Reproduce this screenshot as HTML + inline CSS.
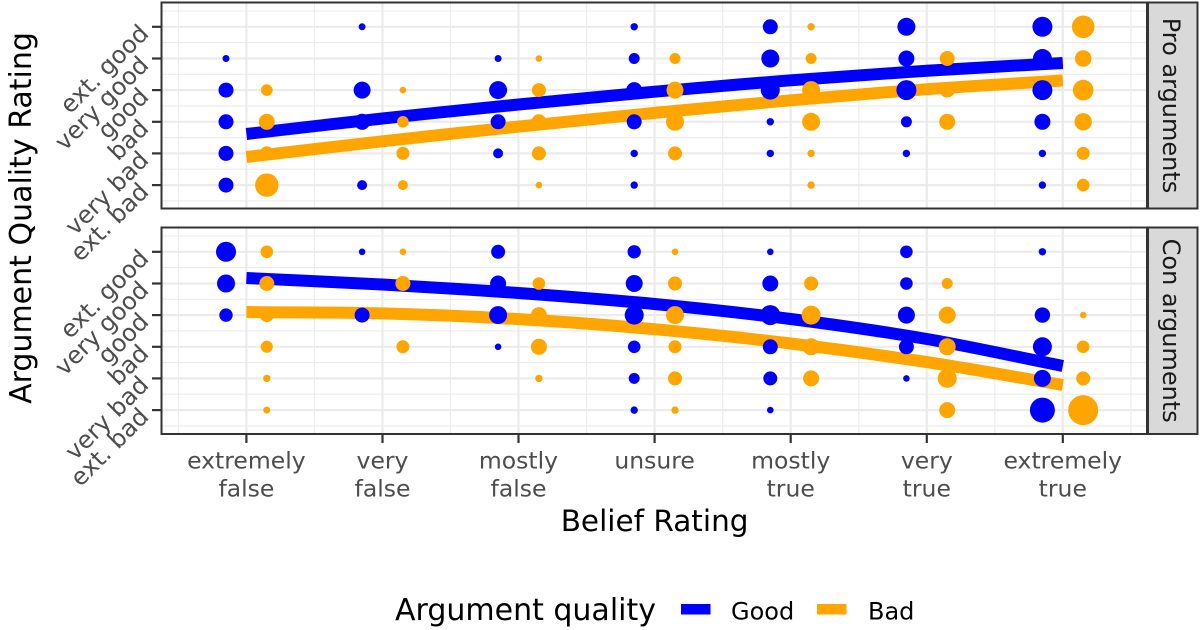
<!DOCTYPE html>
<html>
<head>
<meta charset="utf-8">
<style>
html,body{margin:0;padding:0;background:#fff;}
svg{display:block;}
text{font-family:"DejaVu Sans","Liberation Sans",sans-serif;}
</style>
</head>
<body>
<svg width="1200" height="630" viewBox="0 0 1200 630" xmlns="http://www.w3.org/2000/svg">
<rect x="0" y="0" width="1200" height="630" fill="#fff"/>
<defs>
<clipPath id="cp1"><rect x="161.5" y="2.5" width="985.5" height="206"/></clipPath>
<clipPath id="cp2"><rect x="161.5" y="227.5" width="985.5" height="206.5"/></clipPath>
</defs>

<!-- ===== TOP PANEL ===== -->
<g clip-path="url(#cp1)">
<rect x="161.5" y="2.5" width="985.5" height="206" fill="#fff"/>
<g stroke="#ebebeb" stroke-width="1.1">
<line x1="161" x2="1148" y1="11" y2="11"/><line x1="161" x2="1148" y1="42.6" y2="42.6"/><line x1="161" x2="1148" y1="74.3" y2="74.3"/><line x1="161" x2="1148" y1="105.9" y2="105.9"/><line x1="161" x2="1148" y1="137.6" y2="137.6"/><line x1="161" x2="1148" y1="169.2" y2="169.2"/><line x1="161" x2="1148" y1="200.9" y2="200.9"/>
<line y1="2" y2="209" x1="178.4" x2="178.4"/><line y1="2" y2="209" x1="314.4" x2="314.4"/><line y1="2" y2="209" x1="450.5" x2="450.5"/><line y1="2" y2="209" x1="586.6" x2="586.6"/><line y1="2" y2="209" x1="722.7" x2="722.7"/><line y1="2" y2="209" x1="858.8" x2="858.8"/><line y1="2" y2="209" x1="994.8" x2="994.8"/><line y1="2" y2="209" x1="1130.9" x2="1130.9"/>
</g>
<g stroke="#ebebeb" stroke-width="2.2">
<line x1="161" x2="1148" y1="26.8" y2="26.8"/><line x1="161" x2="1148" y1="58.5" y2="58.5"/><line x1="161" x2="1148" y1="90.1" y2="90.1"/><line x1="161" x2="1148" y1="121.8" y2="121.8"/><line x1="161" x2="1148" y1="153.4" y2="153.4"/><line x1="161" x2="1148" y1="185.1" y2="185.1"/>
<line y1="2" y2="209" x1="246.4" x2="246.4"/><line y1="2" y2="209" x1="382.5" x2="382.5"/><line y1="2" y2="209" x1="518.5" x2="518.5"/><line y1="2" y2="209" x1="654.6" x2="654.6"/><line y1="2" y2="209" x1="790.7" x2="790.7"/><line y1="2" y2="209" x1="926.8" x2="926.8"/><line y1="2" y2="209" x1="1062.8" x2="1062.8"/>
</g>
<path d="M246.4,134 C291.8,128.8 337.1,123.4 382.5,118.5 C427.8,113.6 473.2,109 518.5,104.5 C563.9,100 609.3,95.7 654.6,91.7 C700,87.7 745.3,83.8 790.7,80.3 C836,76.8 881.4,73.7 926.8,70.8 C972.1,67.9 1017.5,65.6 1062.8,63" fill="none" stroke="#0000ff" stroke-width="12"/>
<path d="M246.4,157 C291.8,151.8 337.1,146.4 382.5,141.3 C427.8,136.2 473.2,131.3 518.5,126.6 C563.9,121.9 609.3,117.3 654.6,112.9 C700,108.5 745.3,104.3 790.7,100.3 C836,96.4 881.4,92.5 926.8,89.2 C972.1,85.9 1017.5,83.4 1062.8,80.5" fill="none" stroke="#ffa500" stroke-width="12"/>
<g fill="#0000ff">
<circle cx="226" cy="58.5" r="3.5"/><circle cx="226" cy="90.1" r="7.5"/><circle cx="226" cy="121.8" r="7.5"/><circle cx="226" cy="153.4" r="7.5"/><circle cx="226" cy="185.1" r="7.5"/>
<circle cx="362.1" cy="26.8" r="3.5"/><circle cx="362.1" cy="90.1" r="8.5"/><circle cx="362.1" cy="121.8" r="8"/><circle cx="362.1" cy="185.1" r="5"/>
<circle cx="498.1" cy="58.5" r="3.5"/><circle cx="498.1" cy="90.1" r="9"/><circle cx="498.1" cy="121.8" r="7.5"/><circle cx="498.1" cy="153.4" r="5"/>
<circle cx="634.2" cy="26.8" r="3.7"/><circle cx="634.2" cy="58.5" r="5.5"/><circle cx="634.2" cy="90.1" r="8"/><circle cx="634.2" cy="121.8" r="7.5"/><circle cx="634.2" cy="153.4" r="3.7"/><circle cx="634.2" cy="185.1" r="3.7"/>
<circle cx="770.3" cy="26.8" r="7.5"/><circle cx="770.3" cy="58.5" r="9"/><circle cx="770.3" cy="90.1" r="9.5"/><circle cx="770.3" cy="121.8" r="3.7"/><circle cx="770.3" cy="153.4" r="3.7"/>
<circle cx="906.4" cy="26.8" r="9"/><circle cx="906.4" cy="58.5" r="8"/><circle cx="906.4" cy="90.1" r="10"/><circle cx="906.4" cy="121.8" r="5.5"/><circle cx="906.4" cy="153.4" r="3.7"/>
<circle cx="1042.4" cy="26.8" r="10"/><circle cx="1042.4" cy="58.5" r="9.5"/><circle cx="1042.4" cy="90.1" r="10"/><circle cx="1042.4" cy="121.8" r="8"/><circle cx="1042.4" cy="153.4" r="3.7"/><circle cx="1042.4" cy="185.1" r="3.7"/>
</g>
<g fill="#ffa500">
<circle cx="266.8" cy="90.1" r="5.8"/><circle cx="266.8" cy="121.8" r="8"/><circle cx="266.8" cy="153.4" r="7"/><circle cx="266.8" cy="185.1" r="11.7"/>
<circle cx="402.9" cy="90.1" r="3.3"/><circle cx="402.9" cy="121.8" r="5.8"/><circle cx="402.9" cy="153.4" r="6.5"/><circle cx="402.9" cy="185.1" r="5"/>
<circle cx="538.9" cy="58.5" r="3.3"/><circle cx="538.9" cy="90.1" r="7"/><circle cx="538.9" cy="121.8" r="7.5"/><circle cx="538.9" cy="153.4" r="7"/><circle cx="538.9" cy="185.1" r="3.3"/>
<circle cx="675" cy="58.5" r="5.5"/><circle cx="675" cy="90.1" r="8.5"/><circle cx="675" cy="121.8" r="9"/><circle cx="675" cy="153.4" r="7"/>
<circle cx="811.1" cy="26.8" r="3.7"/><circle cx="811.1" cy="58.5" r="5.5"/><circle cx="811.1" cy="90.1" r="9"/><circle cx="811.1" cy="121.8" r="9"/><circle cx="811.1" cy="153.4" r="3.7"/><circle cx="811.1" cy="185.1" r="3.7"/>
<circle cx="947.2" cy="58.5" r="7.5"/><circle cx="947.2" cy="90.1" r="7.5"/><circle cx="947.2" cy="121.8" r="8"/>
<circle cx="1083.2" cy="26.8" r="11.3"/><circle cx="1083.2" cy="58.5" r="8.3"/><circle cx="1083.2" cy="90.1" r="10.3"/><circle cx="1083.2" cy="121.8" r="8.7"/><circle cx="1083.2" cy="153.4" r="6.5"/><circle cx="1083.2" cy="185.1" r="6.3"/>
</g>
</g>
<rect x="161.5" y="2.5" width="985.5" height="206" fill="none" stroke="#333" stroke-width="2"/>

<!-- ===== BOTTOM PANEL ===== -->
<g clip-path="url(#cp2)">
<rect x="161.5" y="227.5" width="985.5" height="206.5" fill="#fff"/>
<g stroke="#ebebeb" stroke-width="1.1">
<line x1="161" x2="1148" y1="236" y2="236"/><line x1="161" x2="1148" y1="267.6" y2="267.6"/><line x1="161" x2="1148" y1="299.3" y2="299.3"/><line x1="161" x2="1148" y1="330.9" y2="330.9"/><line x1="161" x2="1148" y1="362.6" y2="362.6"/><line x1="161" x2="1148" y1="394.2" y2="394.2"/><line x1="161" x2="1148" y1="425.9" y2="425.9"/>
<line y1="227" y2="435" x1="178.4" x2="178.4"/><line y1="227" y2="435" x1="314.4" x2="314.4"/><line y1="227" y2="435" x1="450.5" x2="450.5"/><line y1="227" y2="435" x1="586.6" x2="586.6"/><line y1="227" y2="435" x1="722.7" x2="722.7"/><line y1="227" y2="435" x1="858.8" x2="858.8"/><line y1="227" y2="435" x1="994.8" x2="994.8"/><line y1="227" y2="435" x1="1130.9" x2="1130.9"/>
</g>
<g stroke="#ebebeb" stroke-width="2.2">
<line x1="161" x2="1148" y1="251.8" y2="251.8"/><line x1="161" x2="1148" y1="283.5" y2="283.5"/><line x1="161" x2="1148" y1="315.1" y2="315.1"/><line x1="161" x2="1148" y1="346.8" y2="346.8"/><line x1="161" x2="1148" y1="378.4" y2="378.4"/><line x1="161" x2="1148" y1="410.1" y2="410.1"/>
<line y1="227" y2="435" x1="246.4" x2="246.4"/><line y1="227" y2="435" x1="382.5" x2="382.5"/><line y1="227" y2="435" x1="518.5" x2="518.5"/><line y1="227" y2="435" x1="654.6" x2="654.6"/><line y1="227" y2="435" x1="790.7" x2="790.7"/><line y1="227" y2="435" x1="926.8" x2="926.8"/><line y1="227" y2="435" x1="1062.8" x2="1062.8"/>
</g>
<path d="M246.4,278 C291.8,280.2 337.1,282 382.5,284.5 C427.8,287 473.2,289.8 518.5,293 C563.9,296.3 609.3,299.7 654.6,304 C700,308.3 745.3,313.2 790.7,319 C836,324.8 881.4,331.2 926.8,339 C972.1,346.8 1017.5,357 1062.8,366" fill="none" stroke="#0000ff" stroke-width="12"/>
<path d="M246.4,312 C291.8,312.5 337.1,312.2 382.5,313.4 C427.8,314.6 473.2,316.5 518.5,319.1 C563.9,321.7 609.3,325.1 654.6,329.2 C700,333.3 745.3,338 790.7,343.5 C836,349 881.4,355.2 926.8,362.1 C972.1,369 1017.5,377.4 1062.8,385" fill="none" stroke="#ffa500" stroke-width="12"/>
<g fill="#0000ff">
<circle cx="226" cy="251.8" r="10"/><circle cx="226" cy="283.5" r="9"/><circle cx="226" cy="315.1" r="6.7"/>
<circle cx="362.1" cy="251.8" r="3.3"/><circle cx="362.1" cy="315.1" r="7.5"/>
<circle cx="498.1" cy="251.8" r="7"/><circle cx="498.1" cy="283.5" r="8"/><circle cx="498.1" cy="315.1" r="9"/><circle cx="498.1" cy="346.8" r="3.3"/>
<circle cx="634.2" cy="251.8" r="6.7"/><circle cx="634.2" cy="283.5" r="8.5"/><circle cx="634.2" cy="315.1" r="9.5"/><circle cx="634.2" cy="346.8" r="6.3"/><circle cx="634.2" cy="378.4" r="5.5"/><circle cx="634.2" cy="410.1" r="3.7"/>
<circle cx="770.3" cy="251.8" r="3.3"/><circle cx="770.3" cy="283.5" r="8"/><circle cx="770.3" cy="315.1" r="10"/><circle cx="770.3" cy="346.8" r="7.5"/><circle cx="770.3" cy="378.4" r="7"/><circle cx="770.3" cy="410.1" r="3.3"/>
<circle cx="906.4" cy="251.8" r="6.3"/><circle cx="906.4" cy="283.5" r="6.3"/><circle cx="906.4" cy="315.1" r="8.5"/><circle cx="906.4" cy="346.8" r="7.5"/><circle cx="906.4" cy="378.4" r="3.3"/>
<circle cx="1042.4" cy="251.8" r="3.7"/><circle cx="1042.4" cy="315.1" r="7.7"/><circle cx="1042.4" cy="346.8" r="9.5"/><circle cx="1042.4" cy="378.4" r="8.5"/><circle cx="1042.4" cy="410.1" r="12.5"/>
</g>
<g fill="#ffa500">
<circle cx="266.8" cy="251.8" r="6.3"/><circle cx="266.8" cy="283.5" r="7.5"/><circle cx="266.8" cy="315.1" r="7"/><circle cx="266.8" cy="346.8" r="6"/><circle cx="266.8" cy="378.4" r="3.7"/><circle cx="266.8" cy="410.1" r="3.5"/>
<circle cx="402.9" cy="251.8" r="3.3"/><circle cx="402.9" cy="283.5" r="7.5"/><circle cx="402.9" cy="315.1" r="4"/><circle cx="402.9" cy="346.8" r="6.5"/>
<circle cx="538.9" cy="283.5" r="6.3"/><circle cx="538.9" cy="315.1" r="8"/><circle cx="538.9" cy="346.8" r="8"/><circle cx="538.9" cy="378.4" r="3.7"/>
<circle cx="675" cy="251.8" r="3.3"/><circle cx="675" cy="283.5" r="7"/><circle cx="675" cy="315.1" r="9"/><circle cx="675" cy="346.8" r="6.5"/><circle cx="675" cy="378.4" r="7"/><circle cx="675" cy="410.1" r="3.7"/>
<circle cx="811.1" cy="283.5" r="7"/><circle cx="811.1" cy="315.1" r="9.5"/><circle cx="811.1" cy="346.8" r="8.5"/><circle cx="811.1" cy="378.4" r="8"/>
<circle cx="947.2" cy="283.5" r="5.5"/><circle cx="947.2" cy="315.1" r="8.5"/><circle cx="947.2" cy="346.8" r="8.5"/><circle cx="947.2" cy="378.4" r="9.5"/><circle cx="947.2" cy="410.1" r="8"/>
<circle cx="1083.2" cy="315.1" r="3.3"/><circle cx="1083.2" cy="346.8" r="6.3"/><circle cx="1083.2" cy="378.4" r="7"/><circle cx="1083.2" cy="410.1" r="15"/>
</g>
</g>
<rect x="161.5" y="227.5" width="985.5" height="206.5" fill="none" stroke="#333" stroke-width="2"/>

<!-- strips -->
<rect x="1148" y="2.5" width="49.5" height="206" fill="#d9d9d9" stroke="#333" stroke-width="2"/>
<rect x="1148" y="227.5" width="49.5" height="206.5" fill="#d9d9d9" stroke="#333" stroke-width="2"/>
<text transform="translate(1163,105.5) rotate(90)" text-anchor="middle" font-size="24" fill="#1a1a1a">Pro arguments</text>
<text transform="translate(1163,330.7) rotate(90)" text-anchor="middle" font-size="24" fill="#1a1a1a">Con arguments</text>

<!-- y ticks -->
<g stroke="#333" stroke-width="2.2">
<line x1="152" x2="161" y1="26.8" y2="26.8"/><line x1="152" x2="161" y1="58.5" y2="58.5"/><line x1="152" x2="161" y1="90.1" y2="90.1"/><line x1="152" x2="161" y1="121.8" y2="121.8"/><line x1="152" x2="161" y1="153.4" y2="153.4"/><line x1="152" x2="161" y1="185.1" y2="185.1"/>
<line x1="152" x2="161" y1="251.8" y2="251.8"/><line x1="152" x2="161" y1="283.5" y2="283.5"/><line x1="152" x2="161" y1="315.1" y2="315.1"/><line x1="152" x2="161" y1="346.8" y2="346.8"/><line x1="152" x2="161" y1="378.4" y2="378.4"/><line x1="152" x2="161" y1="410.1" y2="410.1"/>
<line y1="434" y2="443" x1="246.4" x2="246.4"/><line y1="434" y2="443" x1="382.5" x2="382.5"/><line y1="434" y2="443" x1="518.5" x2="518.5"/><line y1="434" y2="443" x1="654.6" x2="654.6"/><line y1="434" y2="443" x1="790.7" x2="790.7"/><line y1="434" y2="443" x1="926.8" x2="926.8"/><line y1="434" y2="443" x1="1062.8" x2="1062.8"/>
</g>

<!-- y tick labels -->
<g font-size="24" fill="#4d4d4d" text-anchor="end">
<text transform="translate(150,34.8) rotate(-45)">ext. good</text>
<text transform="translate(150,66.5) rotate(-45)">very good</text>
<text transform="translate(150,98.1) rotate(-45)">good</text>
<text transform="translate(150,129.8) rotate(-45)">bad</text>
<text transform="translate(150,161.4) rotate(-45)">very bad</text>
<text transform="translate(150,193.1) rotate(-45)">ext. bad</text>
<text transform="translate(150,259.8) rotate(-45)">ext. good</text>
<text transform="translate(150,291.5) rotate(-45)">very good</text>
<text transform="translate(150,323.1) rotate(-45)">good</text>
<text transform="translate(150,354.8) rotate(-45)">bad</text>
<text transform="translate(150,386.4) rotate(-45)">very bad</text>
<text transform="translate(150,418.1) rotate(-45)">ext. bad</text>
</g>

<!-- x tick labels -->
<g font-size="23.5" fill="#4d4d4d" text-anchor="middle">
<text x="246.4" y="468.5">extremely</text><text x="246.4" y="496.5">false</text>
<text x="382.5" y="468.5">very</text><text x="382.5" y="496.5">false</text>
<text x="518.5" y="468.5">mostly</text><text x="518.5" y="496.5">false</text>
<text x="654.6" y="468.5">unsure</text>
<text x="790.7" y="468.5">mostly</text><text x="790.7" y="496.5">true</text>
<text x="926.8" y="468.5">very</text><text x="926.8" y="496.5">true</text>
<text x="1062.8" y="468.5">extremely</text><text x="1062.8" y="496.5">true</text>
</g>

<!-- axis titles -->
<text x="654.6" y="531" font-size="29.5" fill="#000" text-anchor="middle">Belief Rating</text>
<text transform="translate(31,218) rotate(-90)" font-size="30" fill="#000" text-anchor="middle">Argument Quality Rating</text>

<!-- legend -->
<text x="395" y="620" font-size="30" fill="#000">Argument quality</text>
<rect x="681" y="604" width="29.5" height="10.5" fill="#0000ff"/>
<text x="731" y="619.5" font-size="24" fill="#000">Good</text>
<rect x="817" y="604" width="29.5" height="10.5" fill="#ffa500"/>
<text x="868" y="619.5" font-size="24" fill="#000">Bad</text>
</svg>
</body>
</html>
